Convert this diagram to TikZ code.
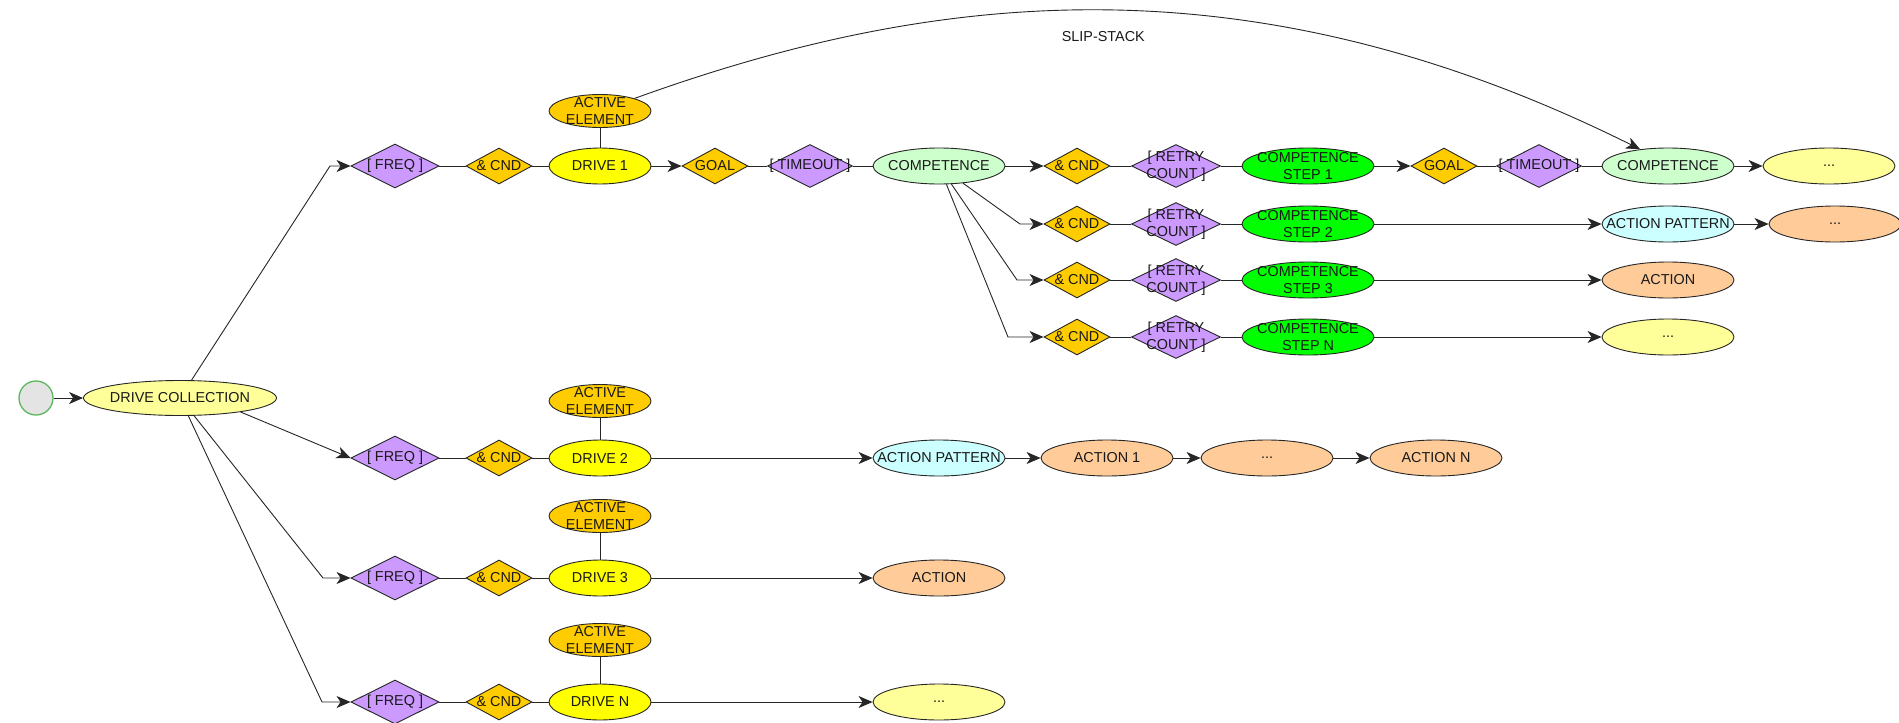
\documentclass[tikz,border=0pt]{standalone}
\usepackage{fontspec}
\setmainfont{Liberation Sans}
\usetikzlibrary{shapes.geometric,arrows.meta,calc}

\definecolor{cPurple}{HTML}{CC99FF}
\definecolor{cGold}{HTML}{FFCC00}
\definecolor{cYel}{HTML}{FFFF00}
\definecolor{cLYel}{HTML}{FFFF99}
\definecolor{cLGreen}{HTML}{CCFFCC}
\definecolor{cGreen}{HTML}{00FF00}
\definecolor{cCyan}{HTML}{CCFFFF}
\definecolor{cPeach}{HTML}{FFCC99}
\definecolor{cStart}{HTML}{E4E4E4}
\definecolor{cStartB}{HTML}{5CB85C}
\definecolor{cLine}{HTML}{262626}

\begin{document}
\begin{tikzpicture}[x=1pt,y=-1pt,
  txt/.style={font=\fontsize{14.4}{17}\selectfont, align=center, inner sep=0pt, text=black!90},
  shp/.style={draw=cLine, line width=0.9pt, inner sep=0pt, label={[txt]center:{#1}}},
  ell/.style={shp={#1}, ellipse, minimum width=132, minimum height=36},
  drv/.style={shp={#1}, ellipse, fill=cYel, minimum width=102, minimum height=36},
  aelem/.style={shp={ACTIVE\\ELEMENT}, ellipse, fill=cGold, minimum width=102, minimum height=33},
  freq/.style={shp={[ FREQ ]}, diamond, fill=cPurple, minimum width=88, minimum height=44},
  cnd/.style={shp={\& CND}, diamond, fill=cGold, minimum width=66, minimum height=36},
  goal/.style={shp={GOAL}, diamond, fill=cGold, minimum width=66, minimum height=36},
  tmo/.style={shp={[ TIMEOUT ]}, diamond, fill=cPurple, minimum width=85, minimum height=43},
  rtry/.style={shp={[ RETRY\\COUNT ]}, diamond, fill=cPurple, minimum width=89, minimum height=43},
  comp/.style={ell={COMPETENCE}, fill=cLGreen},
  cstep/.style={ell={COMPETENCE\\STEP #1}, fill=cGreen},
  apat/.style={ell={ACTION PATTERN}, fill=cCyan},
  act/.style={ell={#1}, fill=cPeach},
  dots/.style={ell={...}, fill=cLYel},
  conn/.style={draw=cLine, line width=0.9pt},
  arr/.style={conn, -{Stealth[length=14pt,width=12pt,inset=4pt]}},
]
\useasboundingbox (0,0) rectangle (1899,723);

% start and drive collection
\node[circle, draw=cStartB, fill=cStart, line width=1.3pt, minimum size=34, inner sep=0pt] (start) at (36,398) {};
\node[ell={DRIVE COLLECTION}, fill=cLYel, minimum width=193, minimum height=35] (dc) at (180,398) {};

% row 1 (drive 1)
\node[freq] (f1) at (395,166) {};
\node[cnd] (c1) at (499,166) {};
\node[drv={DRIVE 1}] (d1) at (600,166) {};
\node[aelem] (a1) at (600,111) {};
\node[goal] (g1) at (715,166) {};
\node[tmo] (t1) at (810,166) {};
\node[comp] (cp1) at (939,166) {};
\node[cnd] (rc1) at (1077,166) {};
\node[rtry] (r1) at (1176,166) {};
\node[cstep=1] (s1) at (1308,166) {};
\node[goal] (g2) at (1444,166) {};
\node[tmo] (t2) at (1539,166) {};
\node[comp] (cp2) at (1668,166) {};
\node[dots] (e1) at (1829,166) {};

% competence rows 2-4
\node[cnd] (rc2) at (1077,224) {};
\node[rtry] (r2) at (1176,224) {};
\node[cstep=2] (s2) at (1308,224) {};
\node[apat] (ap1) at (1668,224) {};
\node[act={...}] (e2) at (1835,224) {};

\node[cnd] (rc3) at (1077,280) {};
\node[rtry] (r3) at (1176,280) {};
\node[cstep=3] (s3) at (1308,280) {};
\node[act={ACTION}] (ac1) at (1668,280) {};

\node[cnd] (rc4) at (1077,337) {};
\node[rtry] (r4) at (1176,337) {};
\node[cstep=N] (s4) at (1308,337) {};
\node[dots] (e4) at (1668,337) {};

% drive 2
\node[freq] (f2) at (395,458) {};
\node[cnd] (c2) at (499,458) {};
\node[drv={DRIVE 2}] (d2) at (600,458) {};
\node[aelem] (a2) at (600,401) {};
\node[apat] (ap2) at (939,458) {};
\node[act={ACTION 1}] (ac2) at (1107,458) {};
\node[act={...}] (e5) at (1267,458) {};
\node[act={ACTION N}] (ac3) at (1436,458) {};

% drive 3
\node[freq] (f3) at (395,578) {};
\node[cnd] (c3) at (499,578) {};
\node[drv={DRIVE 3}] (d3) at (600,578) {};
\node[aelem] (a3) at (600,516) {};
\node[act={ACTION}] (ac4) at (939,578) {};

% drive N
\node[freq] (f4) at (395,702) {};
\node[cnd] (c4) at (499,702) {};
\node[drv={DRIVE N}] (d4) at (600,702) {};
\node[aelem] (a4) at (600,640) {};
\node[dots] (e6) at (939,702) {};

% bend points
\coordinate (k1) at (330,166);
\coordinate (k3) at (323,578);
\coordinate (k4) at (322,702);
\coordinate (q2) at (1020,224);
\coordinate (q3) at (1017,280);
\coordinate (q4) at (1008,337);

% connectors: collection
\draw[arr] (start) -- (dc);
\draw[arr] (dc) -- (k1) -- (f1);
\draw[arr] (dc.-13) -- (f2.west);
\draw[arr] (dc) -- (k3) -- (f3);
\draw[arr] (dc) -- (k4) -- (f4);

% drive rows
\foreach \i in {1,2,3,4} {
  \draw[conn] (f\i) -- (c\i);
  \draw[conn] (c\i) -- (d\i);
  \draw[conn] (a\i) -- (d\i);
}
\draw[arr] (d1) -- (g1);
\draw[conn] (g1) -- (t1);
\draw[conn] (t1) -- (cp1);
\draw[arr] (cp1) -- (rc1);
\draw[arr] (cp1) -- (q2) -- (rc2);
\draw[arr] (cp1) -- (q3) -- (rc3);
\draw[arr] (cp1) -- (q4) -- (rc4);
\foreach \i in {1,2,3,4} {
  \draw[conn] (rc\i) -- (r\i);
  \draw[conn] (r\i) -- (s\i);
}
\draw[arr] (s1) -- (g2);
\draw[conn] (g2) -- (t2);
\draw[conn] (t2) -- (cp2);
\draw[arr] (cp2) -- (e1);
\draw[arr] (s2) -- (ap1);
\draw[arr] (ap1) -- (e2);
\draw[arr] (s3) -- (ac1);
\draw[arr] (s4) -- (e4);

\draw[arr] (d2) -- (ap2);
\draw[arr] (ap2) -- (ac2);
\draw[arr] (ac2) -- (e5);
\draw[arr] (e5) -- (ac3);
\draw[arr] (d3) -- (ac4);
\draw[arr] (d4) -- (e6);

% slip-stack
\draw[arr] (a1.20) .. controls (934,-10) and (1250,-45) .. (cp2.149)
  node[pos=0.5, below=21pt, txt] {SLIP-STACK};
\end{tikzpicture}
\end{document}
